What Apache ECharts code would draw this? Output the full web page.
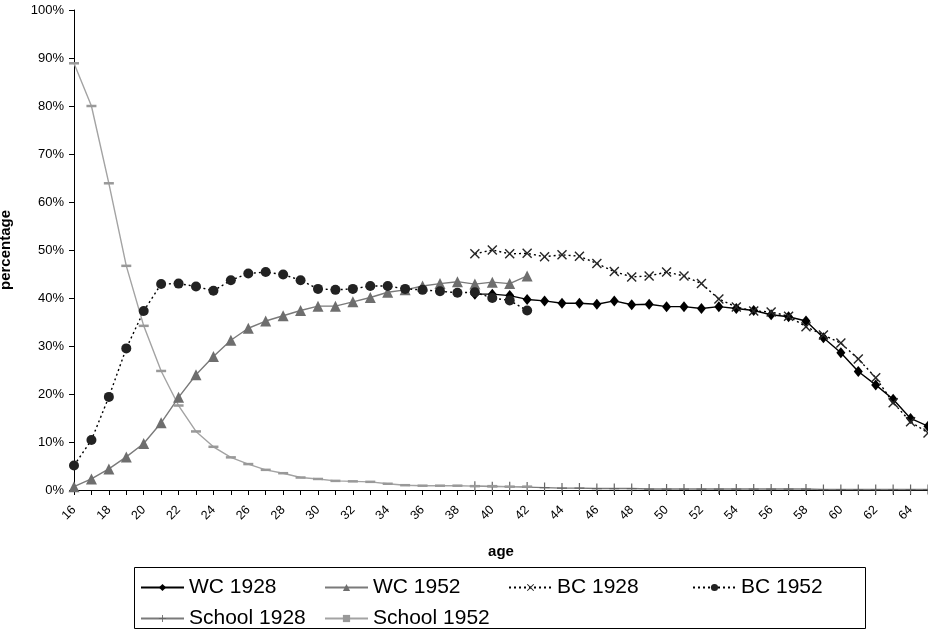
<!DOCTYPE html>
<html>
<head>
<meta charset="utf-8">
<script src="https://cdn.jsdelivr.net/npm/echarts@6/dist/echarts.min.js"></script>
<style>
  html, body { margin: 0; padding: 0; background: #fff; }
  #chart { width: 928px; height: 631px; }
</style>
</head>
<body>
<div id="chart"></div>
<script>
// ages 16..65, one point per year
var ages = ['16','17','18','19','20','21','22','23','24','25','26','27','28','29','30','31','32','33','34','35','36','37','38','39','40',
            '41','42','43','44','45','46','47','48','49','50','51','52','53','54','55','56','57','58','59','60','61','62','63','64','65']

var none23 = [null,null,null,null,null,null,null,null,null,null,null,null,null,null,null,null,null,null,null,null,null,null,null]

// 1928 series start at age 39
var wc1928 = none23.concat([40.8,40.8,40.5,39.7,39.4,38.9,38.9,38.7,39.4,38.6,38.7,38.2,38.2,37.8,38.2,37.8,37.4,36.5,36.1,35.2,31.7,28.6,24.7,21.9,18.9,14.9,13.3])
var bc1928 = none23.concat([49.2,50.0,49.2,49.3,48.6,49.0,48.7,47.2,45.5,44.4,44.6,45.4,44.6,43.0,39.8,38.1,37.3,37.1,36.2,34.0,32.3,30.6,27.3,23.4,18.2,14.2,11.9])
var school1928 = none23.concat([0.8,0.7,0.7,0.6,0.5,0.4,0.4,0.3,0.3,0.3,0.2,0.2,0.2,0.2,0.2,0.2,0.2,0.2,0.2,0.2,0.1,0.1,0.1,0.1,0.1,0.1,0.1])

// 1952 series stop at age 42
var wc1952 = [0.7,2.3,4.4,6.9,9.7,14.0,19.3,24.0,27.8,31.2,33.7,35.2,36.3,37.4,38.3,38.3,39.2,40.1,41.2,41.7,42.5,43.0,43.4,42.9,43.3,43.0,44.6].concat(none23)
var bc1952 = [5.1,10.4,19.4,29.5,37.3,42.9,43.0,42.4,41.5,43.7,45.1,45.4,44.9,43.7,41.9,41.7,41.9,42.5,42.5,41.9,41.7,41.4,41.1,41.2,40.0,39.5,37.4].concat(none23)
var school1952 = [88.9,80.0,63.9,46.7,34.2,24.8,17.6,12.2,9.0,6.8,5.4,4.2,3.5,2.6,2.3,1.9,1.8,1.7,1.3,1.0,0.9,0.9,0.9,0.8,0.8,0.7,0.7].concat(none23)

var crossX = 'path://M0,1L1,0L5,4L9,0L10,1L6,5L10,9L9,10L5,6L1,10L0,9L4,5Z'
var plus = 'path://M4.4,0H5.6V4.4H10V5.6H5.6V10H4.4V5.6H0V4.4H4.4Z'

function line(name, data, color, markColor, symbol, size, dash) {
    return {
        name: name,
        type: 'line',
        data: data,
        symbol: symbol,
        symbolSize: size,
        showAllSymbol: true,
        connectNulls: false,
        lineStyle: { color: color, width: 1.4, type: dash || 'solid' },
        itemStyle: { color: markColor, borderWidth: 0 },
        emphasis: { disabled: true }
    }
}

var myChart = echarts.init(document.getElementById('chart'))

var option = {
    animation: false,
    backgroundColor: '#fff',
    textStyle: { fontFamily: 'Liberation Sans, Arial, sans-serif', color: '#000' },
    grid: { left: 74, right: 0, top: 10, bottom: 141, containLabel: false, outerBoundsMode: 'none' },
    // legend frame drawn separately
    graphic: [{
        type: 'rect',
        shape: { x: 134.5, y: 567.5, width: 731, height: 61 },
        style: { fill: 'none', stroke: '#000', lineWidth: 1 },
        silent: true
    }],
    legend: {
        left: 134, top: 567, width: 735,
        padding: [10, 6, 2, 6],
        itemWidth: 43, itemHeight: 9, itemGap: 10,
        textStyle: { fontSize: 21, color: '#000', width: 125, lineHeight: 20 },
        data: ['WC 1928', 'WC 1952', 'BC 1928', 'BC 1952', 'School 1928', 'School 1952']
    },
    xAxis: {
        type: 'category',
        data: ages,
        boundaryGap: false,
        name: 'age',
        nameLocation: 'middle',
        nameGap: 54,
        nameTextStyle: { fontSize: 15, fontWeight: 'bold', color: '#000' },
        axisLine: { lineStyle: { color: '#000', width: 1 } },
        axisTick: { show: true, interval: 0, length: 5, lineStyle: { color: '#000' } },
        axisLabel: { interval: 1, rotate: 45, margin: 18, fontSize: 12.5, color: '#000' },
        splitLine: { show: false }
    },
    yAxis: {
        type: 'value',
        min: 0, max: 100, interval: 10,
        name: 'percentage',
        nameLocation: 'middle',
        nameGap: 61,
        nameTextStyle: { fontSize: 15, fontWeight: 'bold', color: '#000' },
        axisLine: { show: true, lineStyle: { color: '#000', width: 1 } },
        axisTick: { show: true, length: 5, lineStyle: { color: '#000' } },
        axisLabel: { formatter: '{value}%', fontSize: 13, color: '#000', margin: 10 },
        splitLine: { show: false }
    },
    series: [
        line('WC 1928', wc1928, '#000', '#000', 'diamond', [9, 11]),
        line('WC 1952', wc1952, '#7a7a7a', '#6e6e6e', 'triangle', 11),
        line('BC 1928', bc1928, '#000', '#262626', crossX, 10, [2, 3]),
        line('BC 1952', bc1952, '#000', '#222', 'circle', 10, [2, 3]),
        line('School 1928', school1928, '#7a7a7a', '#666', plus, 10),
        line('School 1952', school1952, '#a3a3a3', '#999', 'rect', [10, 2.5])
    ]
}
myChart.setOption(option)
</script>
</body>
</html>
